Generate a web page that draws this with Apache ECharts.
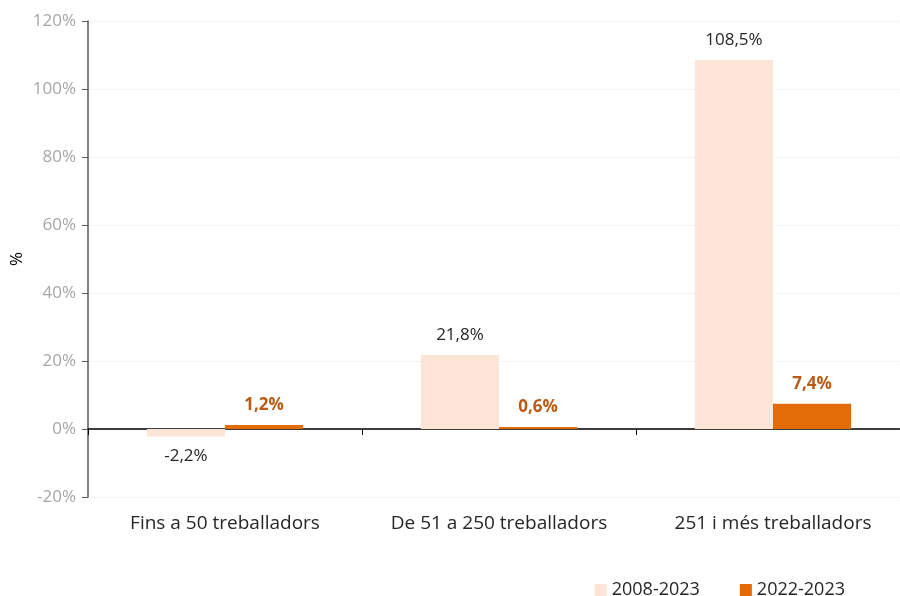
<!DOCTYPE html>
<html>
<head>
<meta charset="utf-8">
<script src="https://cdn.jsdelivr.net/npm/echarts@6/dist/echarts.min.js"></script>
<style>
  html, body { margin: 0; padding: 0; background: #fff; }
  #chart { width: 900px; height: 596px; }
</style>
</head>
<body>
<div id="chart"></div>
<script>
var categories = ['Fins a 50 treballadors', 'De 51 a 250 treballadors', '251 i més treballadors'];
var seriesNames = ['2008-2023', '2022-2023'];
var values0823 = [-2.2, 21.8, 108.5];
var values2223 = [1.2, 0.6, 7.4];

function fmt(v) {
  return v.toFixed(1).replace('.', ',') + '%';
}

// negative bars get their label underneath
function toItems(arr) {
  return arr.map(function (v) {
    return { value: v, label: { position: v < 0 ? 'bottom' : 'top' } };
  });
}

var chart = echarts.init(document.getElementById('chart'));
chart.setOption({
  animation: false,
  textStyle: { fontFamily: 'Open Sans, Noto Sans, sans-serif' },
  grid: { left: 88, right: -10, top: 21, bottom: 99, containLabel: false, outerBoundsMode: 'none' },
  legend: {
    data: seriesNames,
    right: 50,
    top: 576,
    itemWidth: 12,
    itemHeight: 12,
    itemGap: 40,
    icon: 'rect',
    textStyle: { fontSize: 18, color: '#262626' }
  },
  xAxis: [
    {
      type: 'category',
      data: categories,
      axisLine: { onZero: true, lineStyle: { color: '#000', width: 1.5 } },
      axisTick: { show: true, length: 6, lineStyle: { color: '#000' } },
      axisLabel: { show: false },
      splitLine: { show: false }
    },
    {
      type: 'category',
      data: categories,
      position: 'bottom',
      axisLine: { show: false, onZero: false },
      axisTick: { show: false },
      axisLabel: { interval: 0, hideOverlap: false, fontSize: 19, color: '#262626', margin: 17 }
    }
  ],
  yAxis: {
    type: 'value',
    min: -20,
    max: 120,
    interval: 20,
    name: '%',
    nameLocation: 'middle',
    nameRotate: 90,
    nameGap: 62,
    nameMoveOverlap: false,
    nameTextStyle: { fontSize: 17, color: '#000' },
    axisLine: { show: true, lineStyle: { color: '#595959', width: 1.5 } },
    axisTick: { show: true, length: 6, lineStyle: { color: '#595959' } },
    axisLabel: { formatter: '{value}%', fontSize: 17, color: '#a6a6a6', margin: 12 },
    splitLine: { show: true, lineStyle: { color: '#e6e6e6', type: 'dotted' } }
  },
  series: [
    {
      name: seriesNames[0],
      type: 'bar',
      xAxisIndex: 0,
      barGap: '0%',
      barCategoryGap: '43%',
      itemStyle: { color: '#FCE4D6' },
      label: {
        show: true,
        distance: 11,
        fontSize: 17,
        color: '#262626',
        formatter: function (p) { return fmt(p.value); }
      },
      data: toItems(values0823)
    },
    {
      name: seriesNames[1],
      type: 'bar',
      xAxisIndex: 0,
      itemStyle: { color: '#E36C09' },
      label: {
        show: true,
        distance: 11,
        fontSize: 17,
        fontWeight: 'bold',
        color: '#BA5A14',
        formatter: function (p) { return fmt(p.value); }
      },
      data: toItems(values2223)
    }
  ]
});
</script>
</body>
</html>
